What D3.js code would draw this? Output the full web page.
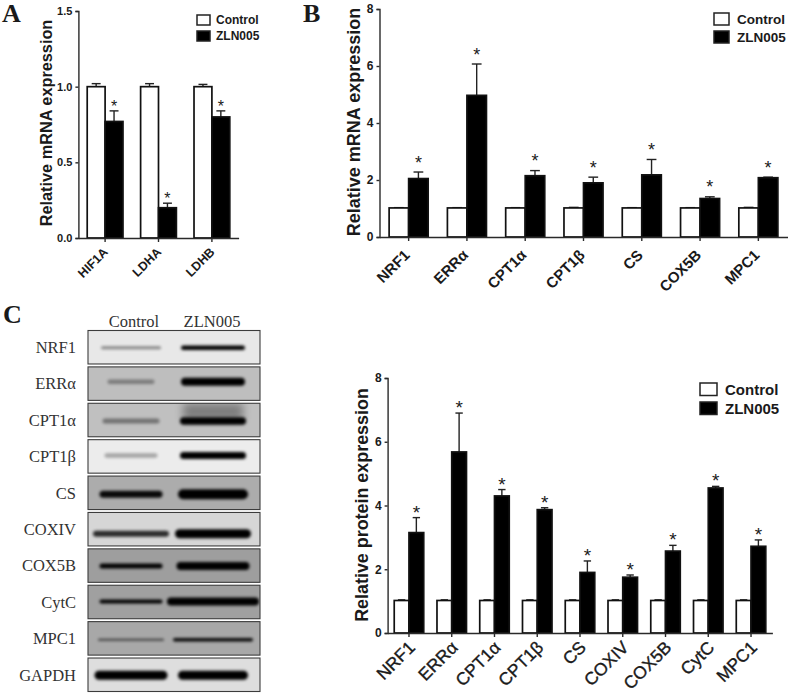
<!DOCTYPE html>
<html>
<head>
<meta charset="utf-8">
<script src="https://cdn.jsdelivr.net/npm/d3@7"></script>
<style>
    html, body { margin: 0; padding: 0; background: #fff; }
    svg { display: block; }
    text { font-family: "Liberation Sans", Arial, sans-serif; fill: #1a1a1a; }
    .serif { font-family: "Liberation Serif", "Times New Roman", serif; }
</style>
</head>
<body>
<div id="figure"></div>
<script>
// series names
const seriesNames = ['Control', 'ZLN005'];

// panel A
const genesA = ['HIF1A', 'LDHA', 'LDHB'];
const controlA = [1, 1, 1];
const controlErrA = [0.02, 0.02, 0.015];
const zlnA = [0.77, 0.2, 0.8];
const zlnErrA = [0.07, 0.03, 0.04];
const ticksA = [0, 0.5, 1, 1.5];

// panel B
const genesB = ['NRF1', 'ERRα', 'CPT1α', 'CPT1β', 'CS', 'COX5B', 'MPC1'];
const controlB = [1.02, 1.02, 1.02, 1.02, 1.02, 1.02, 1.02];
const controlErrB = [0.01, 0.01, 0.01, 0.02, 0.01, 0.01, 0.02];
const zlnB = [2.05, 4.97, 2.15, 1.9, 2.18, 1.35, 2.08];
const zlnErrB = [0.23, 1.1, 0.18, 0.2, 0.54, 0.06, 0.02];
const ticksB = [0, 2, 4, 6, 8];

// panel C, densitometry
const proteins = ['NRF1', 'ERRα', 'CPT1α', 'CPT1β', 'CS', 'COXIV', 'COX5B', 'CytC', 'MPC1'];
const controlC = [1.02, 1.02, 1.02, 1.02, 1.02, 1.02, 1.02, 1.02, 1.02];
const controlErrC = [0.02, 0.02, 0.02, 0.02, 0.02, 0.02, 0.02, 0.02, 0.02];
const zlnC = [3.15, 5.68, 4.3, 3.87, 1.9, 1.75, 2.57, 4.55, 2.72];
const zlnErrC = [0.47, 1.22, 0.2, 0.06, 0.36, 0.07, 0.18, 0.05, 0.2];
const ticksC = [0, 2, 4, 6, 8];

// panel C, blots (band darkness 0-1, band length and thickness in px)
const blotRows = ['NRF1', 'ERRα', 'CPT1α', 'CPT1β', 'CS', 'COXIV', 'COX5B', 'CytC', 'MPC1', 'GAPDH'];
const blotGrey = [232, 190, 192, 236, 172, 214, 158, 160, 168, 222];
const blotOffset = [0.5, -2, 1, -1, 1.5, 4.5, 0.5, -0.5, 1.5, 0.5];
const controlDark = [0.42, 0.35, 0.4, 0.3, 0.95, 0.8, 1, 1, 0.65, 1];
const controlLen = [60, 47, 57, 53, 63, 76, 63, 63, 66, 73];
const controlThick = [3, 4.5, 5, 4.5, 7, 6, 5, 4, 2, 9];
const zlnDark = [1, 1, 1, 1, 1, 1, 1, 1, 0.95, 1];
const zlnLen = [64, 64, 66, 66, 70, 76, 73, 92, 80, 70];
const zlnThick = [4.5, 8, 7.5, 7, 10, 9, 8, 8, 3.5, 9];
const zlnSmear = [0, 0, 0.35, 0, 0, 0, 0, 0, 0, 0];

const svg = d3.select('#figure').append('svg')
    .attr('width', 789)
    .attr('height', 693)
    .attr('viewBox', [0, 0, 789, 693]);

const defs = svg.append('defs');
defs.append('filter').attr('id', 'band-blur')
    .attr('x', '-20%').attr('y', '-150%').attr('width', '140%').attr('height', '400%')
    .append('feGaussianBlur').attr('stdDeviation', 1.7);
defs.append('filter').attr('id', 'smear-blur')
    .attr('x', '-30%').attr('y', '-60%').attr('width', '160%').attr('height', '220%')
    .append('feGaussianBlur').attr('stdDeviation', 4);

function barPanel(cfg) {
    const g = svg.append('g');

    const x = d3.scaleBand()
        .domain(cfg.genes)
        .range(cfg.xRange);
    const y = d3.scaleLinear()
        .domain(d3.extent(cfg.ticks))
        .range(cfg.yRange);
    const pair = d3.scaleBand()
        .domain(seriesNames)
        .range([x.bandwidth() * (0.5 - cfg.barFrac), x.bandwidth() * (0.5 + cfg.barFrac)]);

    const rows = cfg.genes.map((gene, i) => ({
        gene: gene,
        bars: [
            { name: seriesNames[0], value: cfg.control[i], err: cfg.controlErr[i] },
            { name: seriesNames[1], value: cfg.zln[i], err: cfg.zlnErr[i], star: true }
        ]
    }));

    const group = g.selectAll('g.group').data(rows).join('g')
        .attr('class', 'group')
        .attr('transform', d => `translate(${x(d.gene)},0)`);

    const bar = group.selectAll('g.bar').data(d => d.bars).join('g').attr('class', 'bar');

    // error bars go behind the bars
    bar.append('line')
        .attr('x1', d => pair(d.name) + pair.bandwidth() / 2)
        .attr('x2', d => pair(d.name) + pair.bandwidth() / 2)
        .attr('y1', d => y(d.value))
        .attr('y2', d => y(d.value + d.err))
        .attr('stroke', '#222')
        .attr('stroke-width', 1.4);
    bar.append('line')
        .attr('x1', d => pair(d.name) + pair.bandwidth() * 0.25)
        .attr('x2', d => pair(d.name) + pair.bandwidth() * 0.75)
        .attr('y1', d => y(d.value + d.err))
        .attr('y2', d => y(d.value + d.err))
        .attr('stroke', '#222')
        .attr('stroke-width', 1.4);

    bar.append('rect')
        .attr('x', d => pair(d.name))
        .attr('y', d => y(d.value))
        .attr('width', pair.bandwidth())
        .attr('height', d => y(0) - y(d.value))
        .attr('fill', d => d.name === seriesNames[0] ? '#fff' : '#000')
        .attr('stroke', '#111')
        .attr('stroke-width', 1.7);

    bar.filter(d => d.star).append('text')
        .attr('x', d => pair(d.name) + pair.bandwidth() / 2)
        .attr('y', d => y(d.value + d.err) + cfg.starDy)
        .attr('text-anchor', 'middle')
        .style('font-size', cfg.starSize + 'px')
        .text('*');

    // axes
    const yAxis = g.append('g')
        .attr('transform', `translate(${cfg.xRange[0]},0)`)
        .call(d3.axisLeft(y)
            .tickValues(cfg.ticks)
            .tickSize(3)
            .tickFormat(d3.format(cfg.tickFormat)));
    const xAxis = g.append('g')
        .attr('transform', `translate(0,${cfg.yRange[0]})`)
        .call(d3.axisBottom(x).tickSize(4).tickSizeOuter(0));

    g.selectAll('.domain, .tick line')
        .attr('stroke', '#2a2a2a')
        .attr('stroke-width', 1.4);

    yAxis.selectAll('text')
        .style('font-size', cfg.tickSize + 'px')
        .style('font-weight', 'bold');

    xAxis.selectAll('text')
        .attr('text-anchor', 'end')
        .attr('dx', 0)
        .attr('dy', 0)
        .attr('x', cfg.catDx)
        .attr('y', cfg.catDy)
        .attr('transform', 'rotate(-45)')
        .style('font-size', cfg.catSize + 'px')
        .style('font-weight', cfg.catWeight)
        .style('stroke', '#1a1a1a')
        .style('stroke-width', cfg.catStroke);

    g.append('text')
        .attr('transform', `translate(${cfg.titleX},${(cfg.titleY)}) rotate(-90)`)
        .attr('text-anchor', 'middle')
        .style('font-size', cfg.titleSize + 'px')
        .style('font-weight', 'bold')
        .text(cfg.title);

    // legend
    const legend = g.selectAll('g.legend').data(seriesNames).join('g')
        .attr('class', 'legend')
        .attr('transform', (d, i) => `translate(${cfg.legend.x},${cfg.legend.y + i * cfg.legend.step})`);
    legend.append('rect')
        .attr('width', cfg.legend.w)
        .attr('height', cfg.legend.h)
        .attr('fill', (d, i) => i === 0 ? '#fff' : '#000')
        .attr('stroke', '#222')
        .attr('stroke-width', 1.5);
    legend.append('text')
        .attr('x', cfg.legend.w + cfg.legend.gap)
        .attr('y', cfg.legend.h / 2)
        .attr('dy', '0.36em')
        .style('font-size', cfg.legend.size + 'px')
        .style('font-weight', 'bold')
        .text(d => d);
}

barPanel({
    genes: genesA, control: controlA, controlErr: controlErrA, zln: zlnA, zlnErr: zlnErrA, ticks: ticksA,
    xRange: [78.4, 238.6], yRange: [238, 11], barFrac: 0.335,
    tickFormat: '.1f', tickSize: 11, catSize: 12.5, catWeight: 'bold', catStroke: 0, catDx: -8, catDy: 13,
    starSize: 16, starDy: 1,
    title: 'Relative mRNA expression', titleX: 52, titleY: 123, titleSize: 16.3,
    legend: { x: 197, y: 15, step: 16, w: 13, h: 10, gap: 6, size: 12 }
});

barPanel({
    genes: genesB, control: controlB, controlErr: controlErrB, zln: zlnB, zlnErr: zlnErrB, ticks: ticksB,
    xRange: [379.5, 787.5], yRange: [237, 9], barFrac: 0.335,
    tickFormat: 'd', tickSize: 12, catSize: 15, catWeight: 'bold', catStroke: 0, catDx: -12, catDy: 15,
    starSize: 18, starDy: -3.5,
    title: 'Relative mRNA expression', titleX: 360, titleY: 122, titleSize: 18,
    legend: { x: 714, y: 13, step: 18, w: 15, h: 12, gap: 8, size: 13.5 }
});

barPanel({
    genes: proteins, control: controlC, controlErr: controlErrC, zln: zlnC, zlnErr: zlnErrC, ticks: ticksC,
    xRange: [387.6, 772.4], yRange: [633, 378], barFrac: 0.345,
    tickFormat: 'd', tickSize: 12, catSize: 17.5, catWeight: 'normal', catStroke: 0.35, catDx: -6, catDy: 16,
    starSize: 19, starDy: 1,
    title: 'Relative protein expression', titleX: 368, titleY: 505, titleSize: 17.9,
    legend: { x: 700, y: 383, step: 19, w: 17, h: 12.5, gap: 8, size: 15 }
});

// western blots
const rowScale = d3.scaleBand()
    .domain(blotRows)
    .range([330.5, 691.5])
    .paddingInner(0.08);
const laneScale = d3.scaleBand()
    .domain(seriesNames)
    .range([90, 254]);
const laneLabelScale = d3.scalePoint()
    .domain(seriesNames)
    .range([134, 212]);

const blots = svg.append('g');
const blot = blots.selectAll('g.blot')
    .data(blotRows.map((name, i) => ({
        name: name,
        grey: blotGrey[i],
        offset: blotOffset[i],
        smear: zlnSmear[i],
        bands: [
            { lane: seriesNames[0], dark: controlDark[i], len: controlLen[i], thick: controlThick[i] },
            { lane: seriesNames[1], dark: zlnDark[i], len: zlnLen[i], thick: zlnThick[i] }
        ]
    })))
    .join('g')
    .attr('class', 'blot')
    .attr('transform', d => `translate(0,${rowScale(d.name)})`);

blot.append('clipPath')
    .attr('id', (d, i) => 'blot-clip-' + i)
    .append('rect')
    .attr('x', 88)
    .attr('width', 172)
    .attr('height', rowScale.bandwidth());

blot.append('rect')
    .attr('x', 88)
    .attr('width', 172)
    .attr('height', rowScale.bandwidth())
    .attr('fill', d => d3.rgb(d.grey, d.grey, d.grey));

const inner = blot.append('g').attr('clip-path', (d, i) => `url(#blot-clip-${i})`);

inner.filter(d => d.smear > 0).append('rect')
    .attr('x', laneScale(seriesNames[1]) + laneScale.bandwidth() / 2 - 30)
    .attr('y', 0)
    .attr('width', 60)
    .attr('height', rowScale.bandwidth() / 2)
    .attr('fill', '#000')
    .attr('opacity', d => d.smear)
    .attr('filter', 'url(#smear-blur)');

inner.selectAll('rect.band')
    .data(d => d.bands.map(b => ({ ...b, offset: d.offset })))
    .join('rect')
    .attr('class', 'band')
    .attr('x', d => laneScale(d.lane) + laneScale.bandwidth() / 2 - d.len / 2)
    .attr('y', d => rowScale.bandwidth() / 2 + d.offset - d.thick / 2)
    .attr('width', d => d.len)
    .attr('height', d => d.thick)
    .attr('rx', d => d.thick / 2)
    .attr('fill', '#000')
    .attr('opacity', d => d.dark)
    .attr('filter', 'url(#band-blur)');

blot.append('rect')
    .attr('x', 88)
    .attr('width', 172)
    .attr('height', rowScale.bandwidth())
    .attr('fill', 'none')
    .attr('stroke', '#3c3c3c')
    .attr('stroke-width', 1.1);

blot.append('text')
    .attr('class', 'serif')
    .attr('x', 76)
    .attr('y', rowScale.bandwidth() / 2)
    .attr('dy', '0.35em')
    .attr('text-anchor', 'end')
    .style('font-size', '16.5px')
    .style('fill', '#333')
    .text(d => d.name);

blots.selectAll('text.lane')
    .data(seriesNames)
    .join('text')
    .attr('class', 'lane serif')
    .attr('x', d => laneLabelScale(d))
    .attr('y', 327)
    .attr('text-anchor', 'middle')
    .style('font-size', '16.5px')
    .style('fill', '#333')
    .text(d => d);

// panel letters
const panelLetters = ['A', 'B', 'C'];
const letterX = d3.scaleOrdinal().domain(panelLetters).range([2, 303, 3]);
const letterY = d3.scaleOrdinal().domain(panelLetters).range([22, 22, 323]);
svg.selectAll('text.letter')
    .data(panelLetters)
    .join('text')
    .attr('class', 'letter serif')
    .attr('x', d => letterX(d))
    .attr('y', d => letterY(d))
    .style('font-size', '26px')
    .style('font-weight', 'bold')
    .text(d => d);
</script>
</body>
</html>
